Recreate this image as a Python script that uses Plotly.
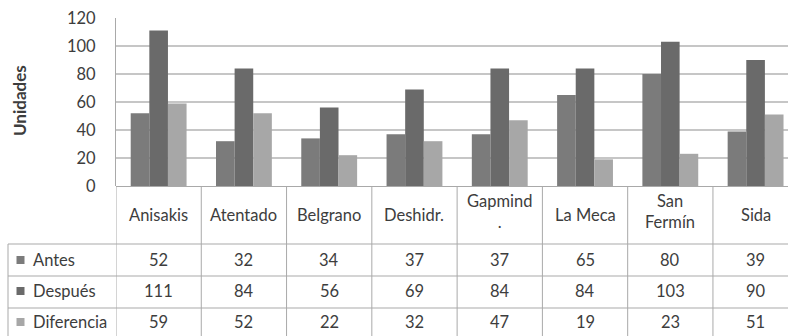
import plotly.graph_objects as go

categories = ["Anisakis", "Atentado", "Belgrano", "Deshidr.", "Gapmind<br>.", "La Meca", "San<br>Fermín", "Sida"]
antes = [52, 32, 34, 37, 37, 65, 80, 39]
despues = [111, 84, 56, 69, 84, 84, 103, 90]
diferencia = [59, 52, 22, 32, 47, 19, 23, 51]
series_names = ["Antes", "Después", "Diferencia"]
series_colors = ["#7b7b7b", "#6a6a6a", "#a7a7a7"]
y_ticks = [0, 20, 40, 60, 80, 100, 120]

W, H = 788, 336
L, R, T, B = 116, 0, 18, 150
plot_w = W - L - R
plot_h = H - T - B
x_range = [-0.5, 7.38]

def px_x(p):
    return (p - L) / plot_w

def px_y(p):
    return (H - B - p) / plot_h

FONT = "Lato"
TXT = "#3d3d3d"
LINE = "#a9a9a9"

fig = go.Figure()
xs = list(range(len(categories)))
for name, vals, col in zip(series_names, [antes, despues, diferencia], series_colors):
    fig.add_trace(go.Bar(x=xs, y=vals, name=name, marker=dict(color=col, line=dict(width=0)),
                         showlegend=False))

shapes = []
# vertical table lines
for i in range(len(categories)):
    shapes.append(dict(type="line", xref="x", yref="paper", x0=i - 0.5, x1=i - 0.5,
                       y0=0, y1=px_y(H + 5), line=dict(color=LINE, width=1)))
# legend column left border
shapes.append(dict(type="line", xref="paper", yref="paper", x0=px_x(8), x1=px_x(8),
                   y0=px_y(244), y1=px_y(H + 5), line=dict(color=LINE, width=1)))
# horizontal table lines
for yy in [244, 276, 308]:
    shapes.append(dict(type="line", xref="paper", yref="paper", x0=px_x(8), x1=1,
                       y0=px_y(yy), y1=px_y(yy), line=dict(color=LINE, width=1)))

annotations = []
# header labels
for i, c in enumerate(categories):
    yc = 212 if "<br>" in c else 215
    annotations.append(dict(x=i, y=px_y(yc), xref="x", yref="paper", text=c, showarrow=False,
                            xanchor="center", yanchor="middle",
                            font=dict(family=FONT, size=16.5, color=TXT)))
row_centers = [260, 291, 322]
for name, vals, col, yc in zip(series_names, [antes, despues, diferencia], series_colors, row_centers):
    shapes.append(dict(type="rect", xref="paper", yref="paper", x0=px_x(16.5), x1=px_x(24.5),
                       y0=px_y(yc + 4), y1=px_y(yc - 4), fillcolor=col, line=dict(width=0)))
    annotations.append(dict(x=px_x(31), y=px_y(yc), xref="paper", yref="paper", text=name,
                            showarrow=False, xanchor="left", yanchor="middle",
                            font=dict(family=FONT, size=16.5, color=TXT)))
    for i, v in enumerate(vals):
        annotations.append(dict(x=i, y=px_y(yc), xref="x", yref="paper", text=str(v),
                                showarrow=False, xanchor="center", yanchor="middle",
                                font=dict(family=FONT, size=16.5, color=TXT)))

annotations.append(dict(x=px_x(19), y=px_y(101), xref="paper", yref="paper", text="<b>Unidades</b>",
                        textangle=-90, showarrow=False, xanchor="center", yanchor="middle",
                        font=dict(family=FONT, size=17, color=TXT)))

fig.update_layout(
    width=W, height=H,
    margin=dict(l=L, r=R, t=T, b=B, pad=0),
    paper_bgcolor="white", plot_bgcolor="white",
    barmode="group", bargap=0.345, bargroupgap=0,
    shapes=shapes, annotations=annotations,
    font=dict(family=FONT, color=TXT),
)
fig.update_xaxes(range=x_range, showticklabels=False, showgrid=False, zeroline=False,
                 showline=False, ticks="")
fig.update_yaxes(range=[0, 120], tickvals=y_ticks, showgrid=True, gridcolor="#c6c6c6", gridwidth=1.5,
                 zeroline=True, zerolinecolor=LINE, zerolinewidth=1,
                 showline=True, linecolor=LINE, linewidth=1,
                 ticks="", ticklabelstandoff=16,
                 tickfont=dict(family=FONT, size=16.5, color=TXT))

fig.write_html("out.html")
